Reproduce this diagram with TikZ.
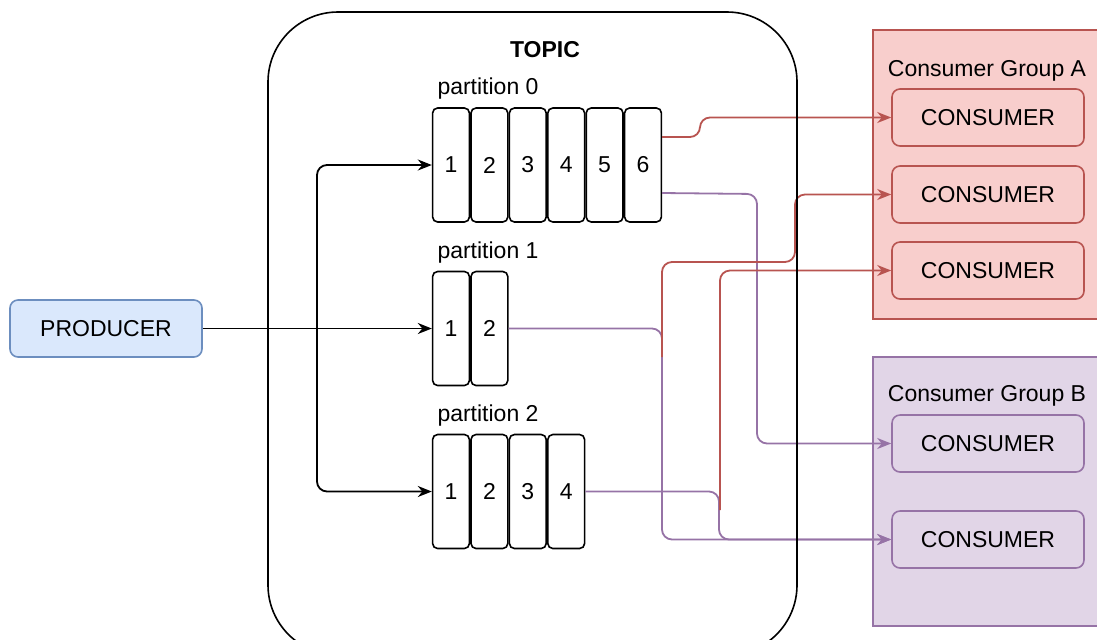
\documentclass[tikz,border=0pt]{standalone}
\usepackage{fontspec}
\setmainfont{Liberation Sans}
\usetikzlibrary{arrows.meta,positioning}

\definecolor{prodfill}{HTML}{DAE8FC}
\definecolor{proddraw}{HTML}{6C8EBF}
\definecolor{grpafill}{HTML}{F8CECC}
\definecolor{grpadraw}{HTML}{B85450}
\definecolor{grpbfill}{HTML}{E1D5E7}
\definecolor{grpbdraw}{HTML}{9673A6}

\begin{document}
\begin{tikzpicture}[
  x=0.5pt, y=-0.5pt,
  every node/.style={font=\fontsize{11.5}{13.5}\selectfont, inner sep=0pt},
  cell/.style={draw, rounded corners=2.5pt, line width=0.8pt, minimum width=18.4pt, minimum height=57pt},
  box/.style={draw, rounded corners=4pt, line width=0.8pt, minimum width=96pt, minimum height=28.5pt},
  conn/.style={line width=0.9pt, rounded corners=5pt, -{Stealth[length=7pt,width=5.5pt]}},
  redconn/.style={conn, draw=grpadraw},
  purpleconn/.style={conn, draw=grpbdraw}
]
  \useasboundingbox (0,0) rectangle (1097,639);

  % consumer groups
  \filldraw[fill=grpafill, draw=grpadraw, line width=0.8pt] (873,30) rectangle (1110,319);
  \filldraw[fill=grpbfill, draw=grpbdraw, line width=0.8pt] (873,357) rectangle (1110,626);
  \node (grpa) at (987,71) {Consumer Group A};
  \node (grpb) at (987,396) {Consumer Group B};

  \node[box, fill=grpafill, draw=grpadraw] (a1) at (988,117.5) {CONSUMER};
  \node[box, fill=grpafill, draw=grpadraw] (a2) at (988,194.5) {CONSUMER};
  \node[box, fill=grpafill, draw=grpadraw] (a3) at (988,270.5) {CONSUMER};
  \node[box, fill=grpbfill, draw=grpbdraw] (b1) at (988,443.5) {CONSUMER};
  \node[box, fill=grpbfill, draw=grpbdraw] (b2) at (988,539.5) {CONSUMER};

  % producer
  \node[box, fill=prodfill, draw=proddraw] (prod) at (106,328.5) {PRODUCER};

  % partitions
  \node (topiclbl) at (545,50) {\bfseries TOPIC};
  \node (p0lbl) at (488,89) {partition 0};
  \node (p1lbl) at (488,253) {partition 1};
  \node (p2lbl) at (488,416) {partition 2};

  \node[cell] (p0c1) at (451,165) {1};
  \foreach \i [remember=\i as \prev (initially 1)] in {2,...,6}
    \node[cell, right=0pt of p0c\prev] (p0c\i) {\i};
  \node[cell] (p1c1) at (451,328.5) {1};
  \node[cell, right=0pt of p1c1] (p1c2) {2};
  \node[cell] (p2c1) at (451,491.5) {1};
  \foreach \i [remember=\i as \prev (initially 1)] in {2,...,4}
    \node[cell, right=0pt of p2c\prev] (p2c\i) {\i};

  % producer to partitions
  \coordinate (split) at (317,328.5);
  \draw[conn] (prod.east) -- (p1c1.west);
  \draw[conn] (split) |- (p0c1.west);
  \draw[conn] (split) |- (p2c1.west);

  % group B
  \draw[purpleconn] ([yshift=-14pt]p0c6.east) -- (757,194) |- (b1.west);
  \draw[purpleconn] (p1c2.east) -- (662,328.5) |- (b2.west);
  \draw[purpleconn] (p2c4.east) -- (719,491.5) |- (b2.west);

  % group A
  \coordinate (r2) at (662,357);
  \coordinate (r3) at (720,510);
  \draw[redconn] ([yshift=14pt]p0c6.east) -- (700,137) |- (a1.west);
  \draw[redconn] (r2) -- (662,262) -- (795,262) |- (a2.west);
  \draw[redconn] (r3) |- (a3.west);

  % topic
  \draw[line width=0.8pt, rounded corners=35pt] (268,12) rectangle (797,655);
\end{tikzpicture}
\end{document}
